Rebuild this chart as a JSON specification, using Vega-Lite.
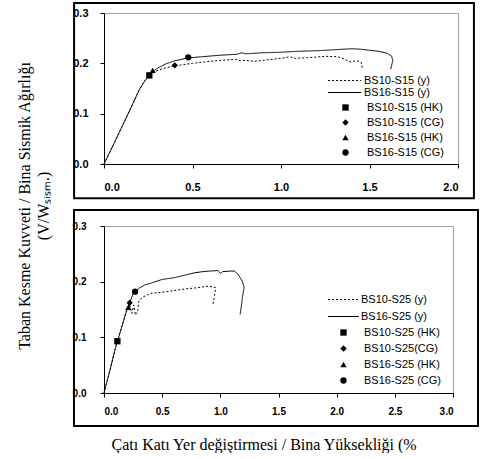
{
  "$schema": "https://vega.github.io/schema/vega-lite/v6.json",
  "background": "white",
  "padding": {"left": 16, "top": 1, "right": 0, "bottom": 0},
  "spacing": 8,
  "title": {
    "text": "            Taban Kesme Kuvveti / Bina Sismik Ağırlığı",
    "subtitle": "(V/Wₛᵢₛₘ.)",
    "orient": "left",
    "anchor": "middle",
    "font": "Liberation Serif",
    "fontSize": 16,
    "fontWeight": "normal",
    "color": "black",
    "subtitleFont": "Liberation Serif",
    "subtitleFontSize": 16,
    "subtitleColor": "black",
    "subtitlePadding": 3,
    "offset": 20,
    "dx": 21
  },
  "config": {
    "view": {"stroke": "#a0a0a0", "strokeWidth": 1},
    "axis": {
      "labelFont": "Liberation Sans",
      "labelFontWeight": "bold",
      "labelColor": "black",
      "domainColor": "black",
      "domainWidth": 1,
      "tickColor": "black",
      "tickSize": 4,
      "grid": false,
      "titleColor": "black"
    },
    "legend": {
      "labelFont": "Liberation Sans",
      "labelFontSize": 11,
      "labelColor": "black",
      "padding": 0
    }
  },
  "datasets": {
    "top_lines": [
      {"series": "BS16-S15 (y)", "i": 0, "x": 0, "y": 0},
      {"series": "BS16-S15 (y)", "i": 1, "x": 0.05, "y": 0.036},
      {"series": "BS16-S15 (y)", "i": 2, "x": 0.1, "y": 0.073},
      {"series": "BS16-S15 (y)", "i": 3, "x": 0.15, "y": 0.11},
      {"series": "BS16-S15 (y)", "i": 4, "x": 0.2, "y": 0.148},
      {"series": "BS16-S15 (y)", "i": 5, "x": 0.23, "y": 0.165},
      {"series": "BS16-S15 (y)", "i": 6, "x": 0.26, "y": 0.178},
      {"series": "BS16-S15 (y)", "i": 7, "x": 0.3, "y": 0.19},
      {"series": "BS16-S15 (y)", "i": 8, "x": 0.35, "y": 0.199},
      {"series": "BS16-S15 (y)", "i": 9, "x": 0.4, "y": 0.205},
      {"series": "BS16-S15 (y)", "i": 10, "x": 0.47, "y": 0.2105},
      {"series": "BS16-S15 (y)", "i": 11, "x": 0.55, "y": 0.213},
      {"series": "BS16-S15 (y)", "i": 12, "x": 0.65, "y": 0.216},
      {"series": "BS16-S15 (y)", "i": 13, "x": 0.75, "y": 0.218},
      {"series": "BS16-S15 (y)", "i": 14, "x": 0.78, "y": 0.221},
      {"series": "BS16-S15 (y)", "i": 15, "x": 0.8, "y": 0.219},
      {"series": "BS16-S15 (y)", "i": 16, "x": 0.9, "y": 0.221},
      {"series": "BS16-S15 (y)", "i": 17, "x": 1.0, "y": 0.222},
      {"series": "BS16-S15 (y)", "i": 18, "x": 1.1, "y": 0.224},
      {"series": "BS16-S15 (y)", "i": 19, "x": 1.2, "y": 0.225},
      {"series": "BS16-S15 (y)", "i": 20, "x": 1.3, "y": 0.227},
      {"series": "BS16-S15 (y)", "i": 21, "x": 1.4, "y": 0.229},
      {"series": "BS16-S15 (y)", "i": 22, "x": 1.45, "y": 0.228},
      {"series": "BS16-S15 (y)", "i": 23, "x": 1.5, "y": 0.226},
      {"series": "BS16-S15 (y)", "i": 24, "x": 1.55, "y": 0.224},
      {"series": "BS16-S15 (y)", "i": 25, "x": 1.6, "y": 0.22},
      {"series": "BS16-S15 (y)", "i": 26, "x": 1.625, "y": 0.214},
      {"series": "BS16-S15 (y)", "i": 27, "x": 1.632, "y": 0.205},
      {"series": "BS16-S15 (y)", "i": 28, "x": 1.625, "y": 0.196},
      {"series": "BS16-S15 (y)", "i": 29, "x": 1.62, "y": 0.188},
      {"series": "BS10-S15 (y)", "i": 0, "x": 0, "y": 0},
      {"series": "BS10-S15 (y)", "i": 1, "x": 0.05, "y": 0.036},
      {"series": "BS10-S15 (y)", "i": 2, "x": 0.1, "y": 0.073},
      {"series": "BS10-S15 (y)", "i": 3, "x": 0.15, "y": 0.11},
      {"series": "BS10-S15 (y)", "i": 4, "x": 0.2, "y": 0.148},
      {"series": "BS10-S15 (y)", "i": 5, "x": 0.23, "y": 0.165},
      {"series": "BS10-S15 (y)", "i": 6, "x": 0.26, "y": 0.177},
      {"series": "BS10-S15 (y)", "i": 7, "x": 0.3, "y": 0.186},
      {"series": "BS10-S15 (y)", "i": 8, "x": 0.35, "y": 0.191},
      {"series": "BS10-S15 (y)", "i": 9, "x": 0.4, "y": 0.195},
      {"series": "BS10-S15 (y)", "i": 10, "x": 0.5, "y": 0.2},
      {"series": "BS10-S15 (y)", "i": 11, "x": 0.6, "y": 0.204},
      {"series": "BS10-S15 (y)", "i": 12, "x": 0.7, "y": 0.207},
      {"series": "BS10-S15 (y)", "i": 13, "x": 0.75, "y": 0.208},
      {"series": "BS10-S15 (y)", "i": 14, "x": 0.77, "y": 0.205},
      {"series": "BS10-S15 (y)", "i": 15, "x": 0.8, "y": 0.206},
      {"series": "BS10-S15 (y)", "i": 16, "x": 0.85, "y": 0.204},
      {"series": "BS10-S15 (y)", "i": 17, "x": 0.9, "y": 0.206},
      {"series": "BS10-S15 (y)", "i": 18, "x": 1.0, "y": 0.21},
      {"series": "BS10-S15 (y)", "i": 19, "x": 1.05, "y": 0.213},
      {"series": "BS10-S15 (y)", "i": 20, "x": 1.08, "y": 0.21},
      {"series": "BS10-S15 (y)", "i": 21, "x": 1.15, "y": 0.211},
      {"series": "BS10-S15 (y)", "i": 22, "x": 1.25, "y": 0.214},
      {"series": "BS10-S15 (y)", "i": 23, "x": 1.32, "y": 0.213},
      {"series": "BS10-S15 (y)", "i": 24, "x": 1.36, "y": 0.208},
      {"series": "BS10-S15 (y)", "i": 25, "x": 1.39, "y": 0.203},
      {"series": "BS10-S15 (y)", "i": 26, "x": 1.43, "y": 0.205},
      {"series": "BS10-S15 (y)", "i": 27, "x": 1.45, "y": 0.203},
      {"series": "BS10-S15 (y)", "i": 28, "x": 1.46, "y": 0.196},
      {"series": "BS10-S15 (y)", "i": 29, "x": 1.455, "y": 0.19}
    ],
    "top_pts": [
      {"marker": "BS10-S15 (HK)", "x": 0.256, "y": 0.176},
      {"marker": "BS10-S15 (CG)", "x": 0.4, "y": 0.196},
      {"marker": "BS16-S15 (HK)", "x": 0.275, "y": 0.186},
      {"marker": "BS16-S15 (CG)", "x": 0.476, "y": 0.212}
    ],
    "bot_lines": [
      {"series": "BS16-S25 (y)", "i": 0, "x": 0, "y": 0},
      {"series": "BS16-S25 (y)", "i": 1, "x": 0.05, "y": 0.04},
      {"series": "BS16-S25 (y)", "i": 2, "x": 0.1, "y": 0.082},
      {"series": "BS16-S25 (y)", "i": 3, "x": 0.15, "y": 0.117},
      {"series": "BS16-S25 (y)", "i": 4, "x": 0.2, "y": 0.152},
      {"series": "BS16-S25 (y)", "i": 5, "x": 0.25, "y": 0.178},
      {"series": "BS16-S25 (y)", "i": 6, "x": 0.3, "y": 0.188},
      {"series": "BS16-S25 (y)", "i": 7, "x": 0.35, "y": 0.194},
      {"series": "BS16-S25 (y)", "i": 8, "x": 0.4, "y": 0.197},
      {"series": "BS16-S25 (y)", "i": 9, "x": 0.5, "y": 0.204},
      {"series": "BS16-S25 (y)", "i": 10, "x": 0.6, "y": 0.207},
      {"series": "BS16-S25 (y)", "i": 11, "x": 0.7, "y": 0.212},
      {"series": "BS16-S25 (y)", "i": 12, "x": 0.78, "y": 0.216},
      {"series": "BS16-S25 (y)", "i": 13, "x": 0.85, "y": 0.218},
      {"series": "BS16-S25 (y)", "i": 14, "x": 0.9, "y": 0.219},
      {"series": "BS16-S25 (y)", "i": 15, "x": 0.98, "y": 0.22},
      {"series": "BS16-S25 (y)", "i": 16, "x": 1.0, "y": 0.215},
      {"series": "BS16-S25 (y)", "i": 17, "x": 1.02, "y": 0.218},
      {"series": "BS16-S25 (y)", "i": 18, "x": 1.08, "y": 0.219},
      {"series": "BS16-S25 (y)", "i": 19, "x": 1.12, "y": 0.219},
      {"series": "BS16-S25 (y)", "i": 20, "x": 1.15, "y": 0.214},
      {"series": "BS16-S25 (y)", "i": 21, "x": 1.19, "y": 0.2},
      {"series": "BS16-S25 (y)", "i": 22, "x": 1.205, "y": 0.19},
      {"series": "BS16-S25 (y)", "i": 23, "x": 1.19, "y": 0.172},
      {"series": "BS16-S25 (y)", "i": 24, "x": 1.18, "y": 0.155},
      {"series": "BS16-S25 (y)", "i": 25, "x": 1.17, "y": 0.141},
      {"series": "BS10-S25 (y)", "i": 0, "x": 0, "y": 0},
      {"series": "BS10-S25 (y)", "i": 1, "x": 0.05, "y": 0.04},
      {"series": "BS10-S25 (y)", "i": 2, "x": 0.1, "y": 0.082},
      {"series": "BS10-S25 (y)", "i": 3, "x": 0.15, "y": 0.117},
      {"series": "BS10-S25 (y)", "i": 4, "x": 0.2, "y": 0.152},
      {"series": "BS10-S25 (y)", "i": 5, "x": 0.22, "y": 0.158},
      {"series": "BS10-S25 (y)", "i": 6, "x": 0.24, "y": 0.143},
      {"series": "BS10-S25 (y)", "i": 7, "x": 0.255, "y": 0.158},
      {"series": "BS10-S25 (y)", "i": 8, "x": 0.27, "y": 0.14},
      {"series": "BS10-S25 (y)", "i": 9, "x": 0.29, "y": 0.148},
      {"series": "BS10-S25 (y)", "i": 10, "x": 0.3, "y": 0.165},
      {"series": "BS10-S25 (y)", "i": 11, "x": 0.33, "y": 0.172},
      {"series": "BS10-S25 (y)", "i": 12, "x": 0.4, "y": 0.179},
      {"series": "BS10-S25 (y)", "i": 13, "x": 0.5, "y": 0.181},
      {"series": "BS10-S25 (y)", "i": 14, "x": 0.6, "y": 0.184},
      {"series": "BS10-S25 (y)", "i": 15, "x": 0.7, "y": 0.187},
      {"series": "BS10-S25 (y)", "i": 16, "x": 0.8, "y": 0.189},
      {"series": "BS10-S25 (y)", "i": 17, "x": 0.9, "y": 0.192},
      {"series": "BS10-S25 (y)", "i": 18, "x": 0.96, "y": 0.189},
      {"series": "BS10-S25 (y)", "i": 19, "x": 0.95, "y": 0.175},
      {"series": "BS10-S25 (y)", "i": 20, "x": 0.935, "y": 0.157}
    ],
    "bot_pts": [
      {"marker": "BS10-S25 (HK)", "x": 0.115, "y": 0.093},
      {"marker": "BS10-S25(CG)", "x": 0.221, "y": 0.162},
      {"marker": "BS16-S25 (HK)", "x": 0.21, "y": 0.154},
      {"marker": "BS16-S25 (CG)", "x": 0.267, "y": 0.182}
    ]
  },
  "vconcat": [
    {
      "width": 354,
      "height": 151,
      "layer": [
        {
          "data": {"values": [{}]},
          "mark": {"type": "rect", "fill": null, "stroke": "black", "strokeWidth": 2},
          "encoding": {
            "x": {"datum": -0.169, "type": "quantitative", "scale": {"domain": [0, 2], "nice": false}},
            "x2": {"datum": 2.09},
            "y": {"datum": 0.32, "type": "quantitative", "scale": {"domain": [0, 0.3], "nice": false}},
            "y2": {"datum": -0.068}
          }
        },
        {
          "data": {"name": "top_lines"},
          "mark": {"type": "line", "color": "black", "strokeWidth": 1},
          "encoding": {
            "x": {"field": "x", "type": "quantitative", "scale": {"domain": [0, 2], "nice": false},
              "axis": {"title": null, "values": [0, 0.5, 1, 1.5, 2], "format": ".1f", "labelFontSize": 11, "labelPadding": 13}},
            "y": {"field": "y", "type": "quantitative", "scale": {"domain": [0, 0.3], "nice": false},
              "axis": {"title": null, "values": [0, 0.1, 0.2, 0.3], "format": ".1f", "labelFontSize": 11, "labelPadding": 12}},
            "order": {"field": "i", "type": "quantitative"},
            "strokeDash": {"field": "series", "type": "nominal",
              "scale": {"domain": ["BS10-S15 (y)", "BS16-S15 (y)"], "range": [[2, 2], [1, 0]]},
              "legend": {"title": null, "orient": "none", "legendX": 235, "legendY": 62, "symbolType": "M-3.3,0H3.3", "symbolSize": 100, "symbolStrokeColor": "black", "symbolStrokeWidth": 1, "labelOffset": 14, "rowPadding": 0}}
          }
        },
        {
          "data": {"name": "top_pts"},
          "mark": {"type": "point", "filled": true, "color": "black", "size": 40, "opacity": 1},
          "encoding": {
            "x": {"field": "x", "type": "quantitative", "scale": {"domain": [0, 2], "nice": false}},
            "y": {"field": "y", "type": "quantitative", "scale": {"domain": [0, 0.3], "nice": false}},
            "shape": {"field": "marker", "type": "nominal",
              "scale": {"domain": ["BS10-S15 (HK)", "BS10-S15 (CG)", "BS16-S15 (HK)", "BS16-S15 (CG)"], "range": ["square", "diamond", "triangle-up", "circle"]},
              "legend": {"title": null, "orient": "none", "legendX": 236, "legendY": 89, "symbolSize": 40, "symbolFillColor": "black", "symbolStrokeWidth": 0, "labelOffset": 16, "rowPadding": 3}}
          }
        }
      ]
    },
    {
      "width": 349,
      "height": 167,
      "layer": [
        {
          "data": {"values": [{}]},
          "mark": {"type": "rect", "fill": null, "stroke": "black", "strokeWidth": 2},
          "encoding": {
            "x": {"datum": -0.258, "type": "quantitative", "scale": {"domain": [0, 3], "nice": false}},
            "x2": {"datum": 3.215},
            "y": {"datum": 0.3287, "type": "quantitative", "scale": {"domain": [0, 0.3], "nice": false}},
            "y2": {"datum": -0.0593}
          }
        },
        {
          "data": {"name": "bot_lines"},
          "mark": {"type": "line", "color": "black", "strokeWidth": 1},
          "encoding": {
            "x": {"field": "x", "type": "quantitative", "scale": {"domain": [0, 3], "nice": false},
              "axis": {"title": "Çatı Katı Yer değiştirmesi / Bina Yüksekliği (%", "titleFont": "Liberation Serif", "titleFontSize": 16, "titleFontWeight": "normal", "titleAnchor": "start", "titleAlign": "left", "titleX": 7, "titleY": 56, "titleBaseline": "alphabetic",
                "values": [0, 0.5, 1, 1.5, 2, 2.5, 3], "format": ".1f", "labelFontSize": 10, "labelPadding": 9}},
            "y": {"field": "y", "type": "quantitative", "scale": {"domain": [0, 0.3], "nice": false},
              "axis": {"title": null, "values": [0, 0.1, 0.2, 0.3], "format": ".1f", "labelFontSize": 10, "labelPadding": 14}},
            "order": {"field": "i", "type": "quantitative"},
            "strokeDash": {"field": "series", "type": "nominal",
              "scale": {"domain": ["BS10-S25 (y)", "BS16-S25 (y)"], "range": [[2, 2], [1, 0]]},
              "legend": {"title": null, "orient": "none", "legendX": 234, "legendY": 68, "symbolType": "M-3.1,0H3.1", "symbolSize": 100, "symbolStrokeColor": "black", "symbolStrokeWidth": 1, "labelOffset": 12, "rowPadding": 5}}
          }
        },
        {
          "data": {"name": "bot_pts"},
          "mark": {"type": "point", "filled": true, "color": "black", "size": 40, "opacity": 1},
          "encoding": {
            "x": {"field": "x", "type": "quantitative", "scale": {"domain": [0, 3], "nice": false}},
            "y": {"field": "y", "type": "quantitative", "scale": {"domain": [0, 0.3], "nice": false}},
            "shape": {"field": "marker", "type": "nominal",
              "scale": {"domain": ["BS10-S25 (HK)", "BS10-S25(CG)", "BS16-S25 (HK)", "BS16-S25 (CG)"], "range": ["square", "diamond", "triangle-up", "circle"]},
              "legend": {"title": null, "orient": "none", "legendX": 234, "legendY": 101, "symbolSize": 40, "symbolFillColor": "black", "symbolStrokeWidth": 0, "labelOffset": 15, "rowPadding": 4}}
          }
        }
      ]
    }
  ],
  "resolve": {"scale": {"strokeDash": "independent", "shape": "independent"}, "legend": {"strokeDash": "independent", "shape": "independent"}}
}
